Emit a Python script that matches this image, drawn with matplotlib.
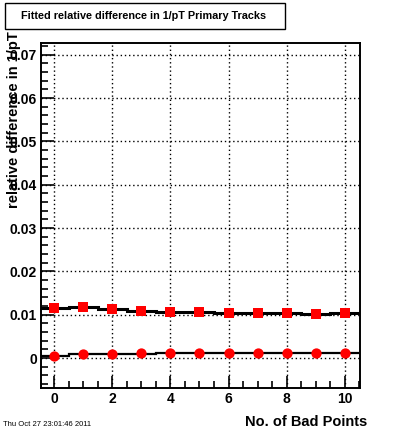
import matplotlib
matplotlib.use("Agg")
import matplotlib.pyplot as plt
import numpy as np
from matplotlib.ticker import MultipleLocator
from matplotlib.patches import Rectangle

plt.rcParams["font.family"] = ["Liberation Sans", "DejaVu Sans"]

# %% Data

bad_points = np.arange(0, 11)

upper_markers = [0.01148, 0.01185, 0.01124, 0.01078, 0.01055, 0.01062,
                 0.01032, 0.01030, 0.01040, 0.01016, 0.01030]
upper_hist = [0.01162, 0.01190, 0.01130, 0.01095, 0.01068, 0.01060,
              0.01050, 0.01035, 0.01048, 0.01025, 0.01030]

lower_markers = [0.00053, 0.00092, 0.00092, 0.00110, 0.00110, 0.00110,
                 0.00110, 0.00110, 0.00110, 0.00110, 0.00120]
lower_hist = [0.00046, 0.00092, 0.00092, 0.00105, 0.00110, 0.00110,
              0.00110, 0.00110, 0.00110, 0.00110, 0.00125]

TITLE = "Fitted relative difference in 1/pT Primary Tracks"
XLABEL = "No. of Bad Points"
YLABEL = "relative difference in 1/pT"
DATE = "Thu Oct 27 23:01:46 2011"

# %% Figure

fig = plt.figure(figsize=(4.0, 4.33), dpi=100)
W, H = 400, 433
ax = fig.add_axes([41 / W, 1 - 388 / H, (360 - 41) / W, (388 - 43) / H])

edges = np.append(bad_points - 0.5, bad_points[-1] + 0.5)
ax.stairs(upper_hist, edges, baseline=None, color="black", lw=2.2, zorder=3)
ax.stairs(lower_hist, edges, baseline=None, color="black", lw=1.6, zorder=3)
ax.scatter(bad_points, upper_markers, marker="s", s=60, color="red", zorder=4, linewidths=0)
ax.scatter(bad_points, lower_markers, marker="o", s=55, color="red", zorder=4, linewidths=0)

ax.set_xlim(-0.45, 10.52)
ax.set_ylim(-0.0069, 0.0727)

ax.xaxis.set_major_locator(MultipleLocator(2))
ax.xaxis.set_minor_locator(MultipleLocator(0.5))
ax.yaxis.set_major_locator(MultipleLocator(0.01))
ax.yaxis.set_minor_locator(MultipleLocator(0.002))
ax.set_yticks(np.arange(0, 0.0701, 0.01), labels=["0"] + [f"{v:.2f}" for v in np.arange(0.01, 0.0701, 0.01)])

ax.grid(True, which="major", color="black", linestyle=(0, (1, 2)), lw=1.0)
ax.tick_params(which="both", direction="in", top=False, right=False, width=1.2)
ax.tick_params(which="major", length=9, labelsize=10, pad=3)
ax.tick_params(which="minor", length=5)
for lab in ax.get_xticklabels() + ax.get_yticklabels():
    lab.set_fontweight("bold")
for s in ax.spines.values():
    s.set_linewidth(1.4)

# Title box
fig.patches.append(Rectangle((5 / W, 1 - 29 / H), 280 / W, 26 / H, transform=fig.transFigure,
                             facecolor="white", edgecolor="black", lw=1.0))
fig.text(144 / W, 1 - 16 / H, TITLE, ha="center", va="center", fontsize=7.8, fontweight="bold")

# y label overlaps tick labels in the reference too
fig.text(14 / W, 1 - 31 / H, YLABEL, rotation=90, ha="center", va="top", fontsize=10.5, fontweight="bold")
fig.text(367 / W, 1 - 422 / H, XLABEL, ha="right", va="center", fontsize=10.5, fontweight="bold")
fig.text(3 / W, 1 - 425 / H, DATE, ha="left", va="center", fontsize=5.5)

fig.savefig("out.png", dpi=100)
